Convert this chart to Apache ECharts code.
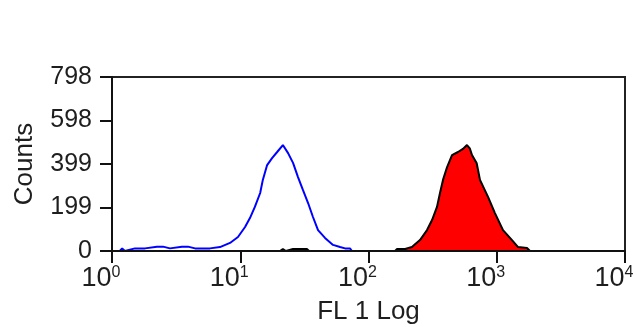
<!DOCTYPE html>
<html>
<head>
<meta charset="utf-8">
<script src="https://cdn.jsdelivr.net/npm/echarts@6/dist/echarts.min.js"></script>
<style>
  html, body { margin: 0; padding: 0; background: #fff; }
  #chart { width: 637px; height: 327px; }
</style>
</head>
<body>
<div id="chart"></div>
<script>
// FL1 channel intensity (log scale) and counts
var blueFL = [1.00, 1.15, 1.20, 1.26, 1.51, 1.81, 2.24, 2.50, 2.83, 3.51, 3.91, 4.44, 5.81, 6.95, 8.32, 9.60,
    10.9, 11.9, 13.0, 14.3, 15.0, 16.2, 17.7, 19.4, 21.5, 23.6, 25.8, 28.2, 30.8, 33.8, 36.9, 40.4,
    45.8, 52.9, 60.0, 65.6, 71.7, 74.3, 10000];
var blueCounts = [0, 0, 12, 0, 12, 12, 20, 20, 12, 20, 20, 12, 12, 18, 37, 64,
    110, 151, 202, 266, 326, 394, 426, 454, 486, 449, 404, 339, 280, 220, 156, 96,
    60, 28, 18, 12, 12, 0, 0];

var redFL = [1.00, 20.4, 21.5, 22.7, 25.8, 29.2, 33.1, 34.4, 161, 167, 193, 218, 252, 286, 313, 342,
    361, 381, 410, 448, 455, 499, 545, 586, 616, 641, 698, 740, 855, 968, 1119, 1315, 1466, 1721, 1816, 10000];
var redCounts = [0, 0, 9, 0, 9, 9, 9, 0, 0, 9, 9, 18, 50, 96, 142, 202,
    266, 326, 385, 440, 448, 454, 468, 486, 471, 440, 402, 326, 248, 174, 96, 50, 18, 14, 0, 0];

var xTickExp = ['0', '1', '2', '3', '4'];
var yTickLabels = ['0', '199', '399', '598', '798'];

function pairs(xs, ys) {
    var out = [];
    for (var i = 0; i < xs.length; i++) out.push([xs[i], ys[i]]);
    return out;
}

var chart = echarts.init(document.getElementById('chart'));
var textColor = '#1e1e1e';
var option = {
    animation: false,
    grid: {
        left: 112, right: 12, top: 77, bottom: 76,
        outerBoundsMode: 'none',
        containLabel: false,
        show: true, borderColor: '#222', borderWidth: 2
    },
    xAxis: {
        type: 'log',
        logBase: 10,
        min: 1,
        max: 10000,
        z: 5,
        name: 'FL 1 Log',
        nameLocation: 'middle',
        nameGap: 48,
        nameTextStyle: { fontFamily: 'Liberation Sans', fontSize: 26, color: textColor },
        axisLine: { lineStyle: { color: '#111', width: 2 } },
        axisTick: { length: 12, lineStyle: { color: '#111', width: 2 } },
        splitLine: { show: false },
        minorTick: { show: false },
        axisLabel: {
            margin: 14,
            formatter: function (v, i) {
                return '{n|10}{s|' + xTickExp[i] + '}';
            },
            rich: {
                n: { fontFamily: 'Liberation Sans Narrow, Liberation Sans', fontSize: 27, color: textColor, lineHeight: 28 },
                s: { fontFamily: 'Liberation Sans Narrow, Liberation Sans', fontSize: 16, color: textColor, lineHeight: 16,
                     verticalAlign: 'top', padding: [0, 22, 0, 0] }
            }
        }
    },
    yAxis: {
        type: 'value',
        min: 0,
        max: 798,
        interval: 199.5,
        z: 5,
        name: 'Counts',
        nameLocation: 'middle',
        nameGap: 74,
        nameRotate: 90,
        nameTextStyle: { fontFamily: 'Liberation Sans', fontSize: 26, color: textColor },
        axisLine: { show: true, lineStyle: { color: '#111', width: 2 } },
        axisTick: { show: true, length: 12, lineStyle: { color: '#111', width: 2 } },
        splitLine: { show: false },
        axisLabel: {
            margin: 20,
            fontFamily: 'Liberation Sans',
            fontSize: 25,
            color: textColor,
            formatter: function (v, i) { return yTickLabels[i]; }
        }
    },
    series: [
        {
            name: 'sample',
            type: 'line',
            data: pairs(redFL, redCounts),
            showSymbol: false,
            lineStyle: { color: '#000', width: 2 },
            areaStyle: { color: '#ff0000', opacity: 1 },
            z: 2
        },
        {
            name: 'control',
            type: 'line',
            data: pairs(blueFL, blueCounts),
            showSymbol: false,
            lineStyle: { color: '#0000ff', width: 2 },
            z: 3
        }
    ]
};
chart.setOption(option);
window.onresize = chart.resize;
</script>
</body>
</html>
